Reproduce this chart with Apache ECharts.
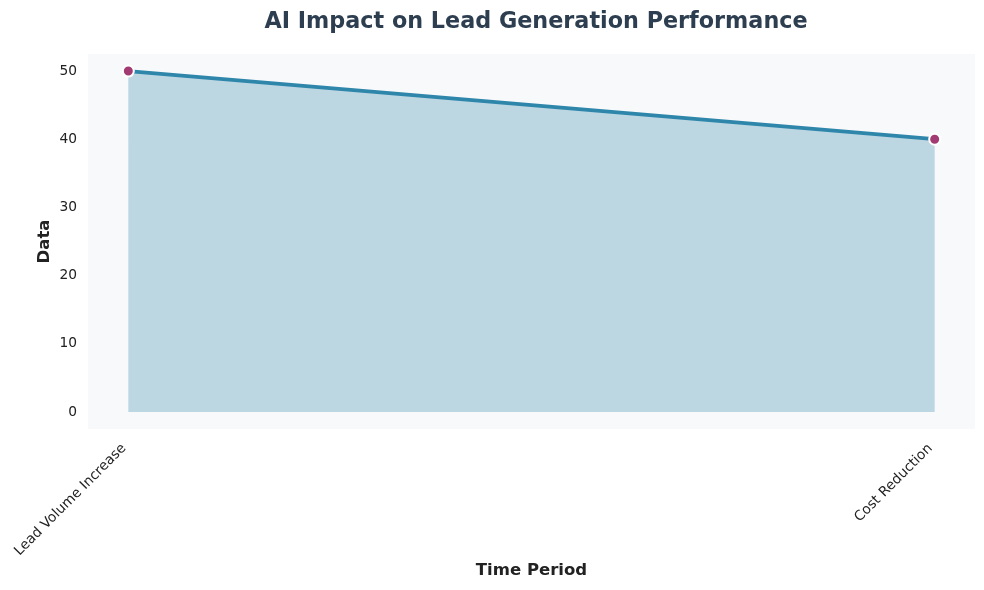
<!DOCTYPE html>
<html><head><meta charset="utf-8">
<script src="https://cdn.jsdelivr.net/npm/echarts@6/dist/echarts.min.js"></script>
<style>html,body{margin:0;padding:0;background:#fff}#c{width:984px;height:590px}</style>
</head><body><div id="c"></div>
<script>
const categories = ["Lead Volume Increase", "Cost Reduction"];
const values = [50, 40];
const yTicks = [0, 10, 20, 30, 40, 50];

const chart = echarts.init(document.getElementById('c'), null, {renderer: 'canvas'});
const font = 'DejaVu Sans';
chart.setOption({
  animation: false,
  backgroundColor: '#ffffff',
  title: {
    text: 'AI Impact on Lead Generation Performance',
    left: 531, top: 6, textAlign: 'center',
    textStyle: {fontFamily: font, fontSize: 22.3, fontWeight: 'bold', color: '#2c3e50'}
  },
  grid: {left: 88, right: 9, top: 54, bottom: 161, show: true, backgroundColor: '#f8f9fa', borderWidth: 0},
  xAxis: {
    type: 'value', min: -0.05, max: categories.length - 1 + 0.05,
    name: 'Time Period', nameLocation: 'middle', nameGap: 133, nameMoveOverlap: false,
    nameTextStyle: {fontFamily: font, fontSize: 16.5, fontWeight: 'bold', color: '#222'},
    axisLine: {show: false}, splitLine: {show: false},
    axisTick: {show: false, customValues: categories.map((_, i) => i)},
    axisLabel: {
      customValues: categories.map((_, i) => i),
      formatter: v => categories[Math.round(v)] || '',
      rotate: 45, margin: 13, padding: [0, 6, 0, 0],
      fontFamily: font, fontSize: 13.8, color: '#222'
    }
  },
  yAxis: {
    type: 'value', min: -2.5, max: 52.5,
    name: 'Data', nameLocation: 'middle', nameGap: 35, nameMoveOverlap: false,
    nameTextStyle: {fontFamily: font, fontSize: 16.5, fontWeight: 'bold', color: '#222'},
    axisLine: {show: false}, splitLine: {show: false},
    axisTick: {show: false, customValues: yTicks},
    axisLabel: {customValues: yTicks, margin: 11, fontFamily: font, fontSize: 13.8, color: '#222'}
  },
  series: [{
    type: 'line',
    data: values.map((v, i) => [i, v]),
    lineStyle: {color: '#2E86AB', width: 3.8},
    itemStyle: {color: '#A23B72', borderColor: '#ffffff', borderWidth: 2},
    symbol: 'circle', symbolSize: 11,
    areaStyle: {color: '#bcd6e2', opacity: 1, origin: 0},
    z: 3
  }]
});
</script></body></html>
